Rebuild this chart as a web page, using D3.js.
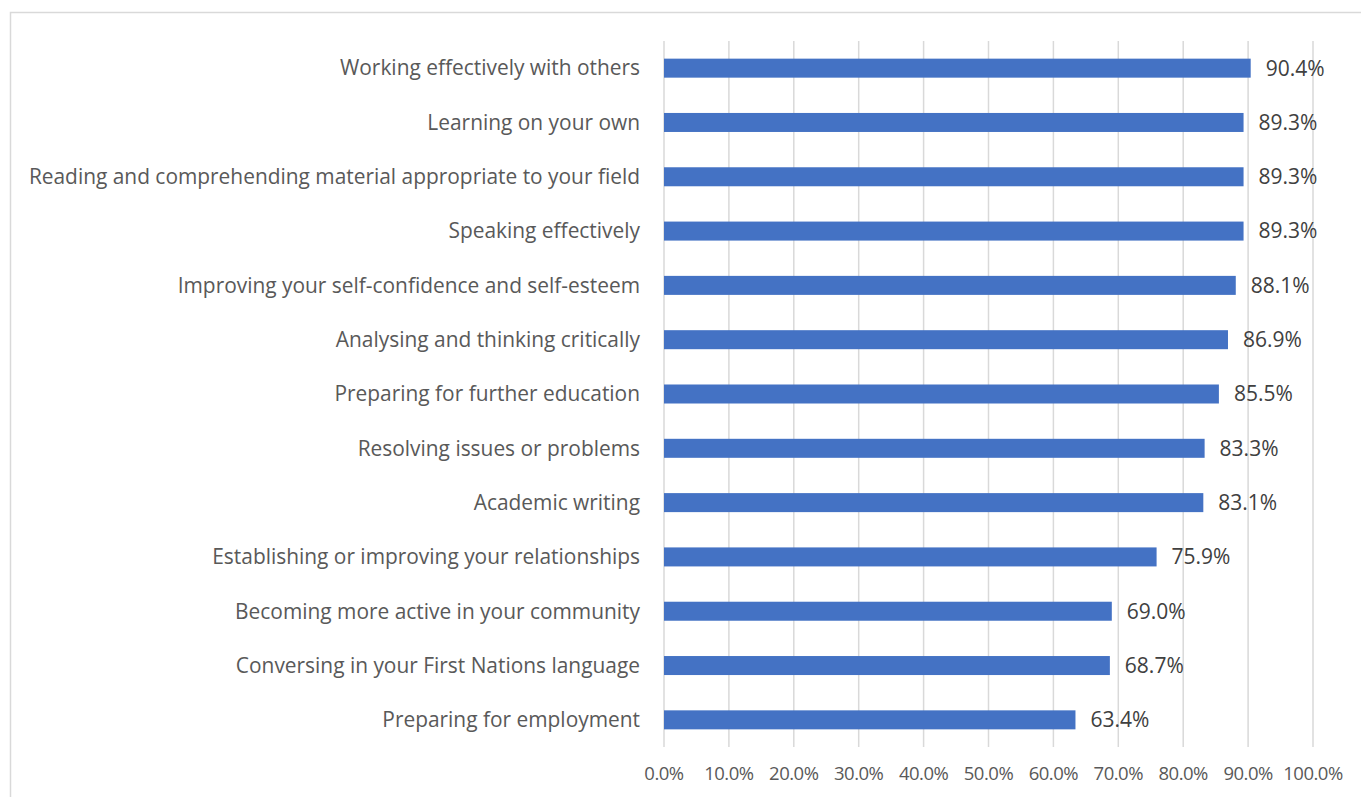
<!DOCTYPE html>
<html>
<head>
<meta charset="utf-8">
<script src="https://cdn.jsdelivr.net/npm/d3@7"></script>
<style>
  html, body { margin: 0; padding: 0; background: #fff; }
  svg { display: block; }
  text { font-family: "Open Sans", "Noto Sans", sans-serif; }
</style>
</head>
<body>
<svg id="chart" width="1361" height="797"></svg>
<script>
// Skill areas, top to bottom
const categories = [
  "Working effectively with others",
  "Learning on your own",
  "Reading and comprehending material appropriate to your field",
  "Speaking effectively",
  "Improving your self-confidence and self-esteem",
  "Analysing and thinking critically",
  "Preparing for further education",
  "Resolving issues or problems",
  "Academic writing",
  "Establishing or improving your relationships",
  "Becoming more active in your community",
  "Conversing in your First Nations language",
  "Preparing for employment"
];
// Share of respondents (%)
const values = [90.4, 89.3, 89.3, 89.3, 88.1, 86.9, 85.5, 83.3, 83.1, 75.9, 69.0, 68.7, 63.4];
// Axis ticks (%)
const ticks = [0, 10, 20, 30, 40, 50, 60, 70, 80, 90, 100];

const svg = d3.select("#chart");
const textColor = "#595959";
const barColor = "#4472C4";

// Chart frame
svg.append("rect")
  .attr("x", 10.5).attr("y", 12.5)
  .attr("width", 1400).attr("height", 900)
  .attr("fill", "#fff")
  .attr("stroke", "#d9d9d9").attr("stroke-width", 1.5);

const x = d3.scaleLinear().domain([0, 100]).range([664, 1313]);
const y = d3.scaleBand().domain(categories).range([41, 747]).paddingInner(0.65).paddingOuter(0.325);

// Vertical gridlines
svg.append("g").selectAll("line").data(ticks).join("line")
  .attr("x1", d => x(d)).attr("x2", d => x(d))
  .attr("y1", 41).attr("y2", 747)
  .attr("stroke", "#d9d9d9").attr("stroke-width", 1.5);

// Tick labels
svg.append("g").selectAll("text").data(ticks).join("text")
  .attr("x", d => x(d)).attr("y", 780)
  .attr("text-anchor", "middle")
  .attr("fill", textColor)
  .attr("font-size", 18.5)
  .attr("letter-spacing", -0.5)
  .text(d => d3.format(".1f")(d) + "%");

// Bars
svg.append("g").selectAll("rect").data(values).join("rect")
  .attr("x", x(0))
  .attr("y", (d, i) => y(categories[i]))
  .attr("width", d => x(d) - x(0))
  .attr("height", y.bandwidth())
  .attr("fill", barColor);

// Category labels
svg.append("g").selectAll("text").data(categories).join("text")
  .attr("x", 640)
  .attr("y", d => y(d) + y.bandwidth() / 2)
  .attr("dy", "0.35em")
  .attr("text-anchor", "end")
  .attr("fill", textColor)
  .attr("font-size", 20.9)
  .text(d => d);

// Value labels
svg.append("g").selectAll("text").data(values).join("text")
  .attr("x", d => x(d) + 15)
  .attr("y", (d, i) => y(categories[i]) + y.bandwidth() / 2)
  .attr("dy", "0.35em")
  .attr("fill", "#404040")
  .attr("font-size", 21)
  .text(d => d3.format(".1f")(d) + "%");
</script>
</body>
</html>
